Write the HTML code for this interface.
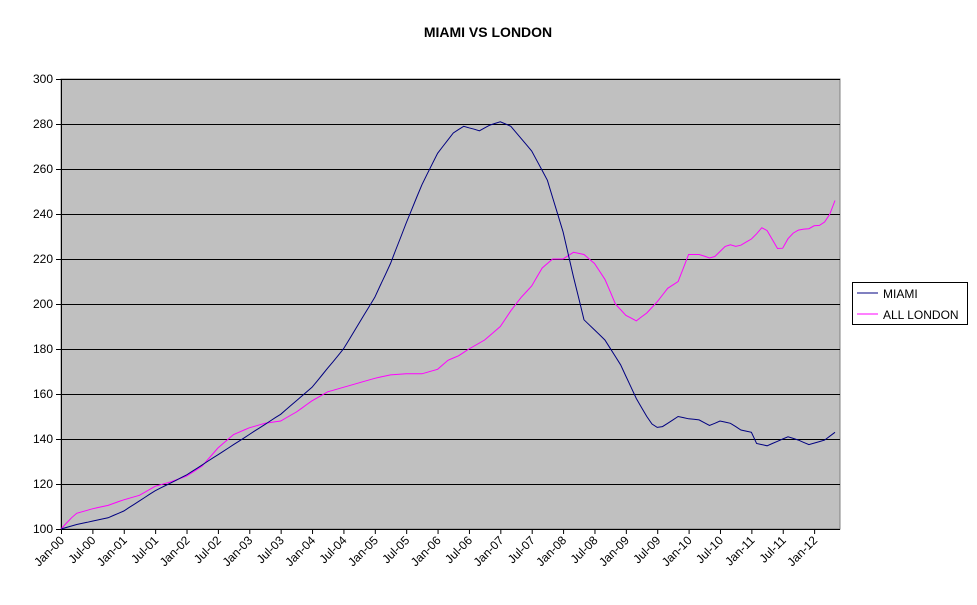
<!DOCTYPE html>
<html><head><meta charset="utf-8"><style>
body{margin:0;background:#fff;width:977px;height:600px;overflow:hidden;font-family:"Liberation Sans",Arial,sans-serif}
</style></head><body>
<svg id="s" width="977" height="600" xmlns="http://www.w3.org/2000/svg" font-family="Liberation Sans, Arial, sans-serif">
<text x="488" y="37" text-anchor="middle" font-size="14" font-weight="bold">MIAMI VS LONDON</text>
<rect x="61" y="79" width="779" height="450" fill="#c0c0c0" stroke="#808080" stroke-width="1"/>
<g id="grid" stroke="#000" stroke-width="1"></g>
<g id="ylab" font-size="12" text-anchor="end"></g>
<g id="xlab" font-size="12"></g>
<polyline id="lon" fill="none" stroke="#ff00ff" stroke-width="1"/>
<polyline id="mia" fill="none" stroke="#000080" stroke-width="1"/>
<rect x="852.5" y="282.5" width="115" height="42" fill="#fff" stroke="#000"/>
<line x1="857" y1="293" x2="878" y2="293" stroke="#000080"/>
<line x1="857" y1="314" x2="878" y2="314" stroke="#ff00ff"/>
<text x="883" y="298" font-size="12">MIAMI</text>
<text x="883" y="319" font-size="12">ALL LONDON</text>
</svg>
<script>
var X=function(m){return 61+m*5.23},Y=function(v){return 529-(v-100)*2.25};
var g=document.getElementById('grid'),yl=document.getElementById('ylab'),xl=document.getElementById('xlab'),h='',t='',u='';
for(var v=100;v<=300;v+=20){var y=Y(v);h+='<line x1="56" x2="840" y1="'+(y+.5)+'" y2="'+(y+.5)+'"/>';t+='<text x="53" y="'+(y+4)+'">'+v+'</text>';}
h+='<line x1="61.5" x2="61.5" y1="79" y2="529"/>';
var mo=['Jan','Jul'];
for(var i=0;i<=24;i++){var x=X(i*6);h+='<line x1="'+(x+.5)+'" x2="'+(x+.5)+'" y1="529" y2="534"/>';
var yr=Math.floor(i/2);var lab=mo[i%2]+'-'+(yr<10?'0':'')+yr;
u+='<text transform="translate('+(x+4)+',541) rotate(-45)" text-anchor="end">'+lab+'</text>';}
g.innerHTML=h;yl.innerHTML=t;xl.innerHTML=u;
function interp(k){var out=[];for(var m=0;m<=148;m++){for(var j=0;j<k.length-1;j++){if(m>=k[j][0]&&m<=k[j+1][0]){var a=k[j],b=k[j+1];var v=a[1]+(b[1]-a[1])*(m-a[0])/(b[0]-a[0]);out.push(X(m).toFixed(1)+','+Y(v).toFixed(1));break;}}}return out.join(' ');}
var M=[[0,100],[3,102],[6,103.5],[9,105],[12,108],[18,117],[24,124],[30,133],[36,142],[42,151],[48,163],[54,180],[60,203],[63,218],[66,236],[69,253],[72,267],[75,276],[77,279],[80,277],[82,279.5],[84,281],[86,279],[90,268],[93,255],[96,232],[98,212],[100,193],[104,184],[107,173],[110,158],[112,150],[113.5,145],[115,145.5],[118,150],[120,149],[122,148.5],[124,146],[126,148],[128,147],[130,144],[132,143],[133,138],[135,137],[139,141],[141,139.5],[143,137.5],[146,139.5],[148,143]];
var L=[[0,100],[2,105],[3,107],[6,109],[9,110.5],[12,113],[15,115],[18,119],[21,121],[24,123.5],[27,128],[30,136],[33,142],[36,145],[39,147],[42,148],[45,152],[48,157],[51,161],[54,163],[57,165],[60,167],[63,168.5],[66,169],[69,169],[72,171],[74,175],[76,177],[78,180],[81,184],[84,190],[86,197],[88,203],[90,208],[92,216],[94,220],[96,220],[98,223],[100,222],[102,218],[104,211],[106,200],[108,195],[110,192.5],[112,196],[114,201],[116,207],[118,210],[120,222],[122.2,222],[124.5,220],[127.5,226.7],[129.4,225.3],[132.3,229.3],[134.4,235],[137.5,222.7],[139.4,230.7],[141.7,233.8],[142.5,232.4],[143.6,234.7],[145.5,235],[146.8,238.7],[148,246]];
document.getElementById('mia').setAttribute('points',interp(M));
document.getElementById('lon').setAttribute('points',interp(L));
</script>
</body></html>
